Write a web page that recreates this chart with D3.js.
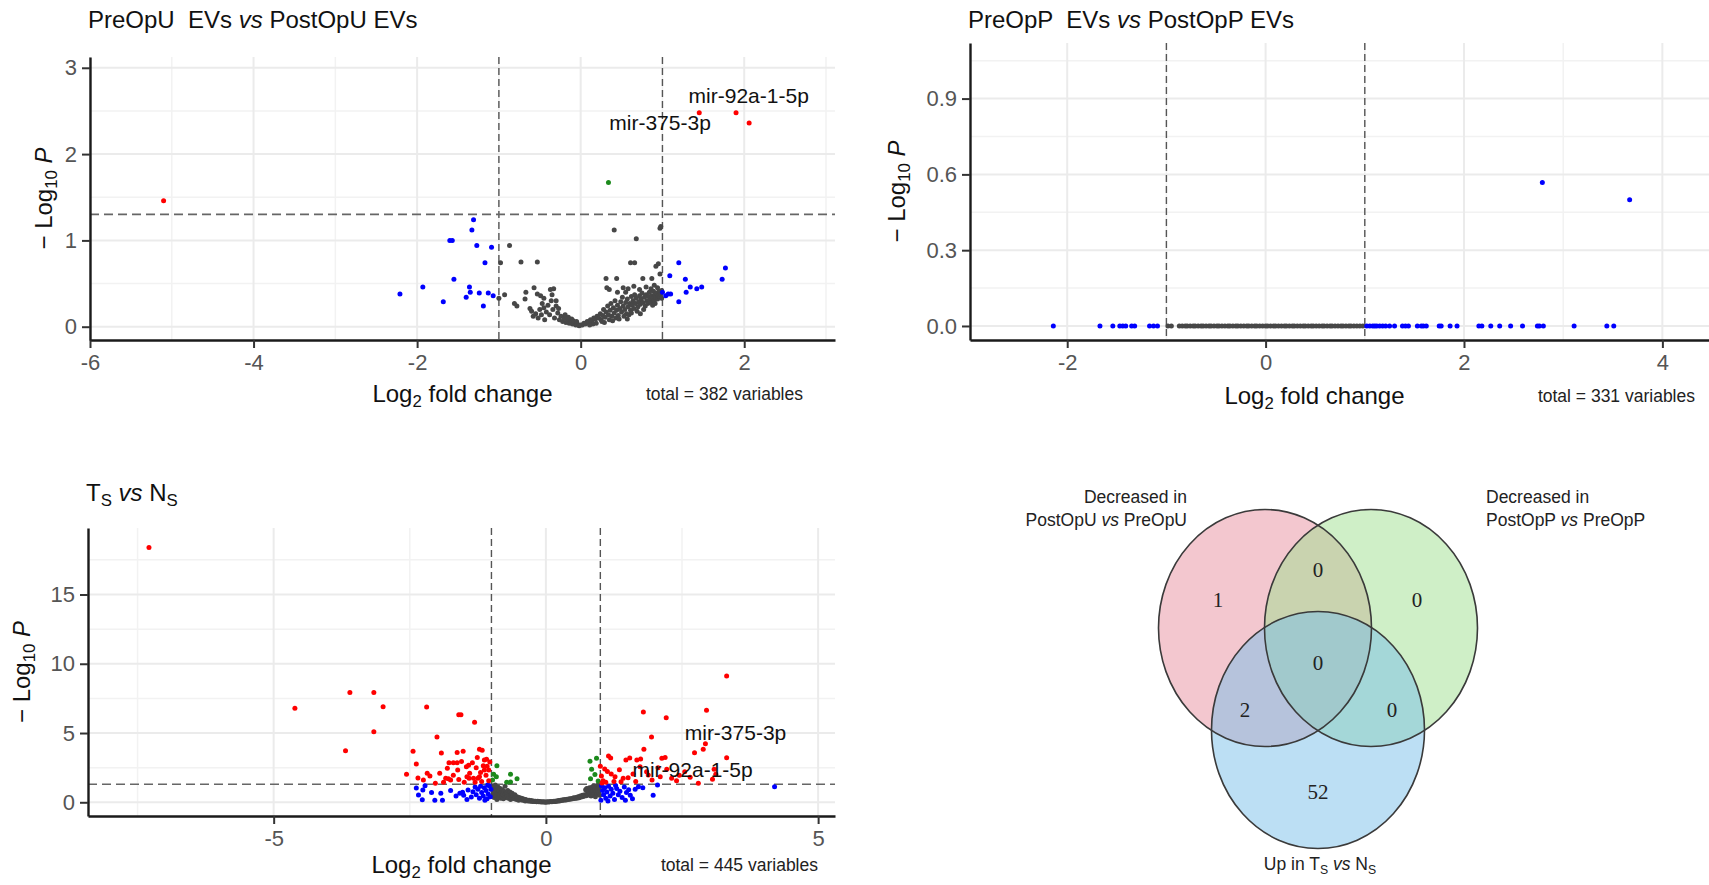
<!DOCTYPE html>
<html>
<head>
<meta charset="utf-8">
<script src="https://cdn.jsdelivr.net/npm/d3@7"></script>
<style>
  body { margin: 0; background: #fff; }
  svg { display: block; font-family: "Liberation Sans", Arial, sans-serif; }
</style>
</head>
<body>
<svg id="chart" width="1709" height="885"></svg>
<script>
// ---- panel 1 : PreOpU EVs vs PostOpU EVs ----
const p1Red = [[-5.10, 1.46], [1.45, 2.48], [1.90, 2.48], [2.06, 2.36]];
const p1Green = [[0.34, 1.67]];
const p1Blue = [
  [-1.31, 1.24], [-1.33, 1.12], [-1.60, 1.00], [-1.57, 1.00], [-1.27, 0.94], [-1.09, 0.92],
  [-1.17, 0.74], [-1.55, 0.55], [-2.21, 0.38], [-1.93, 0.46], [-1.68, 0.29], [-1.36, 0.46],
  [-1.35, 0.40], [-1.40, 0.34], [-1.24, 0.39], [-1.13, 0.39], [-1.07, 0.36], [-1.19, 0.24],
  [1.20, 0.74], [1.09, 0.59], [1.28, 0.55], [1.34, 0.46], [1.42, 0.44], [1.48, 0.46],
  [1.73, 0.55], [1.77, 0.68], [1.29, 0.40], [1.20, 0.29], [1.00, 0.40], [1.04, 0.36],
  [1.07, 0.38], [1.10, 0.38]
];
const p1Grey = [
  [-0.87, 0.94], [-0.98, 0.74], [-0.73, 0.75], [-0.53, 0.75], [-0.93, 0.37], [-1.00, 0.33],
  [-0.81, 0.27], [-0.78, 0.24], [-0.67, 0.40], [-0.57, 0.45], [-0.53, 0.38], [-0.49, 0.36],
  [-0.45, 0.33], [-0.37, 0.43], [-0.33, 0.44], [-0.35, 0.37], [-0.30, 0.30], [-0.68, 0.32],
  [-0.60, 0.18], [-0.58, 0.12], [-0.55, 0.15], [-0.52, 0.10], [-0.50, 0.20], [-0.47, 0.27],
  [-0.45, 0.22], [-0.42, 0.17], [-0.40, 0.25], [-0.38, 0.14], [-0.36, 0.30], [-0.34, 0.20],
  [-0.32, 0.10], [-0.30, 0.24], [-0.28, 0.16], [-0.26, 0.08], [-0.24, 0.12], [-0.22, 0.06],
  [-0.20, 0.10], [-0.18, 0.05], [-0.16, 0.08], [-0.14, 0.04], [-0.12, 0.06], [-0.10, 0.03],
  [-0.08, 0.05], [-0.06, 0.02], [-0.04, 0.03], [-0.02, 0.01], [0.00, 0.02], [-0.62, 0.21],
  [-0.48, 0.14], [-0.44, 0.08], [-0.27, 0.21], [-0.19, 0.14], [-0.15, 0.11], [-0.11, 0.09],
  [-0.09, 0.07], [-0.05, 0.06],
  [0.41, 1.12], [0.68, 1.02], [0.97, 1.14], [0.98, 1.16], [0.61, 0.74], [0.66, 0.74],
  [0.92, 0.70], [0.95, 0.73], [0.31, 0.56], [0.44, 0.56], [0.76, 0.56], [0.87, 0.56],
  [0.97, 0.61], [0.32, 0.45], [0.35, 0.43], [0.52, 0.45], [0.58, 0.44], [0.65, 0.47],
  [0.72, 0.43], [0.80, 0.46], [0.86, 0.44], [0.90, 0.48], [0.94, 0.45], [0.99, 0.42],
  [0.45, 0.40], [0.55, 0.40],
  [0.02, 0.02], [0.04, 0.04], [0.06, 0.03], [0.08, 0.06], [0.10, 0.05], [0.12, 0.08],
  [0.14, 0.07], [0.16, 0.10], [0.18, 0.09], [0.20, 0.12], [0.22, 0.10], [0.24, 0.15],
  [0.25, 0.08], [0.27, 0.13], [0.28, 0.20], [0.30, 0.11], [0.31, 0.17], [0.33, 0.24],
  [0.34, 0.14], [0.36, 0.19], [0.37, 0.27], [0.38, 0.12], [0.40, 0.22], [0.41, 0.16],
  [0.42, 0.30], [0.44, 0.19], [0.45, 0.25], [0.46, 0.13], [0.48, 0.21], [0.49, 0.29],
  [0.50, 0.17], [0.51, 0.34], [0.52, 0.24], [0.54, 0.20], [0.55, 0.28], [0.56, 0.15],
  [0.57, 0.32], [0.58, 0.23], [0.60, 0.27], [0.61, 0.19], [0.62, 0.35], [0.63, 0.25],
  [0.64, 0.30], [0.65, 0.21], [0.66, 0.37], [0.67, 0.27], [0.68, 0.33], [0.70, 0.23],
  [0.71, 0.29], [0.72, 0.36], [0.73, 0.26], [0.74, 0.32], [0.75, 0.39], [0.76, 0.28],
  [0.78, 0.34], [0.79, 0.24], [0.80, 0.37], [0.81, 0.30], [0.82, 0.27], [0.83, 0.35],
  [0.84, 0.40], [0.85, 0.31], [0.86, 0.28], [0.87, 0.36], [0.88, 0.33], [0.89, 0.41],
  [0.90, 0.30], [0.91, 0.37], [0.92, 0.34], [0.93, 0.39], [0.94, 0.32], [0.95, 0.36],
  [0.96, 0.41], [0.97, 0.35], [0.98, 0.38], [0.99, 0.33], [0.43, 0.10], [0.53, 0.12],
  [0.59, 0.14], [0.69, 0.18], [0.77, 0.20], [0.35, 0.08], [0.26, 0.06], [0.47, 0.09],
  [0.29, 0.05], [0.39, 0.07], [0.19, 0.04], [0.15, 0.03], [0.11, 0.02], [0.62, 0.16],
  [0.88, 0.25], [0.91, 0.27], [0.73, 0.15], [0.57, 0.09]
];
const p1Labels = [['mir-92a-1-5p', 1.32, 2.59], ['mir-375-3p', 0.35, 2.28]];
const p1XTicks = [-6, -4, -2, 0, 2];
const p1YTicks = [0, 1, 2, 3];

// ---- panel 2 : PreOpP EVs vs PostOpP EVs ----
const p2Blue = [
  [-2.14, 0], [-1.67, 0], [-1.54, 0], [-1.47, 0], [-1.44, 0], [-1.41, 0], [-1.35, 0],
  [-1.32, 0], [-1.17, 0], [-1.13, 0], [-1.09, 0],
  [1.02, 0], [1.05, 0], [1.08, 0], [1.10, 0], [1.12, 0], [1.15, 0], [1.18, 0], [1.21, 0],
  [1.25, 0], [1.30, 0], [1.38, 0], [1.41, 0], [1.44, 0], [1.53, 0], [1.57, 0], [1.59, 0],
  [1.62, 0], [1.75, 0], [1.77, 0], [1.86, 0], [1.93, 0], [2.15, 0], [2.18, 0], [2.27, 0],
  [2.36, 0], [2.47, 0], [2.59, 0], [2.74, 0], [2.76, 0], [2.80, 0], [3.11, 0], [3.44, 0],
  [3.51, 0], [2.79, 0.568], [3.67, 0.50]
];
const p2Grey = [
  -0.985, -0.95, -0.87, -0.84, -0.81, -0.79, -0.76, -0.73, -0.71, -0.68, -0.65, -0.63,
  -0.60, -0.57, -0.55, -0.52, -0.49, -0.47, -0.44, -0.41, -0.38, -0.36, -0.33, -0.30,
  -0.28, -0.25, -0.22, -0.19, -0.17, -0.14, -0.11, -0.09, -0.06, -0.03, 0.00, 0.02,
  0.05, 0.08, 0.10, 0.13, 0.16, 0.19, 0.21, 0.24, 0.27, 0.29, 0.32, 0.35, 0.38, 0.40,
  0.43, 0.46, 0.48, 0.51, 0.54, 0.57, 0.59, 0.62, 0.65, 0.67, 0.70, 0.73, 0.76, 0.78,
  0.81, 0.84, 0.86, 0.89, 0.92, 0.95, 0.98
].map(v => [v, 0]);
const p2XTicks = [-2, 0, 2, 4];
const p2YTicks = [0, 0.3, 0.6, 0.9];

// ---- panel 3 : Ts vs Ns ----
const p3Red = [
  [-7.29, 18.4], [-4.61, 6.78], [-3.60, 7.93], [-3.16, 7.93], [-2.99, 6.89], [-3.16, 5.09],
  [-3.68, 3.72], [-2.19, 6.87], [-1.60, 6.32], [-1.56, 6.32], [-1.31, 5.77], [-2.00, 4.71],
  [-2.44, 3.68], [-2.38, 2.76], [-2.56, 2.02], [-2.18, 2.09], [-2.25, 1.60], [-1.92, 3.55],
  [-1.63, 3.60], [-1.52, 3.68], [-1.22, 3.82], [-1.17, 3.75], [-1.78, 2.86], [-1.70, 2.86],
  [-1.63, 2.86], [-1.81, 2.45], [-1.62, 2.33], [-1.46, 2.57], [-1.42, 2.67], [-1.26, 3.24],
  [-1.13, 3.05], [-1.09, 3.10], [-1.15, 2.64], [-1.13, 2.33], [-1.05, 2.33], [-1.40, 2.09],
  [-1.45, 1.85], [-1.41, 1.73], [-1.33, 1.73], [-1.25, 1.73], [-1.22, 1.85], [-2.13, 1.90],
  [-2.03, 1.37], [-1.84, 1.73], [-1.79, 1.70], [-1.75, 1.61], [-1.55, 2.95], [-1.35, 2.85],
  [-1.28, 2.50], [-1.20, 2.15], [-1.10, 1.95], [-1.05, 1.55], [-1.50, 1.45], [-1.70, 1.95],
  [-1.95, 2.10], [-1.88, 1.45], [-1.30, 1.45], [-1.18, 1.50], [-1.60, 1.65], [-2.35, 1.75],
  [-1.03, 2.90], [-1.08, 2.60],
  [3.32, 9.11], [1.79, 6.51], [2.21, 6.10], [2.95, 6.65], [1.94, 4.71], [2.93, 4.23],
  [2.89, 3.82], [2.73, 3.58], [1.80, 3.82], [3.32, 3.22], [1.15, 3.34], [1.19, 3.19],
  [1.47, 3.05], [1.54, 3.19], [1.67, 3.05], [1.74, 3.12], [2.13, 3.17], [2.19, 3.24],
  [1.13, 2.23], [1.27, 1.85], [1.42, 1.73], [1.51, 1.77], [1.73, 2.57], [1.85, 2.21],
  [1.88, 1.97], [2.06, 2.50], [2.22, 2.38], [2.31, 1.73], [3.09, 2.38], [3.12, 2.02],
  [3.06, 1.66], [2.80, 1.37], [1.02, 1.90], [1.05, 1.55], [1.08, 2.40], [1.10, 1.45],
  [1.20, 2.05], [1.35, 2.35], [1.60, 2.05], [1.65, 1.50], [1.95, 1.60], [2.10, 1.85],
  [2.45, 1.95], [2.55, 2.20], [2.65, 1.80], [1.38, 1.48], [1.00, 2.60], [1.03, 1.40],
  [1.25, 1.50], [2.40, 1.55]
];
const p3Green = [
  [-0.90, 2.64], [-0.96, 2.02], [-0.91, 1.85], [-0.65, 2.02], [-0.53, 1.70], [-0.72, 1.44],
  [-0.65, 1.46], [-0.98, 1.60],
  [0.81, 2.96], [0.93, 3.17], [0.84, 2.38], [0.82, 1.70], [0.96, 1.54], [0.90, 2.00]
];
const p3Blue = [
  [-2.38, 1.03], [-2.34, 0.53], [-2.27, 0.19], [-2.26, 0.89], [-2.22, 1.20], [-2.04, 0.14],
  [-1.93, 0.65], [-1.90, 0.14], [-1.65, 0.45], [-1.58, 0.65], [-1.53, 0.72], [-1.51, 0.50],
  [-1.43, 0.89], [-1.37, 0.38], [-1.34, 0.76], [-1.28, 0.55], [-1.25, 0.95], [-1.22, 0.30],
  [-1.20, 1.15], [-1.18, 0.70], [-1.15, 0.45], [-1.13, 1.05], [-1.10, 0.85], [-1.08, 0.25],
  [-1.06, 0.60], [-1.04, 1.20], [-1.02, 0.40], [-1.12, 0.15], [-1.30, 1.10], [-1.45, 0.20],
  [-1.75, 0.85], [-2.10, 0.70], [-1.01, 0.95], [-1.07, 1.25],
  [4.20, 1.12], [2.05, 1.25], [1.97, 0.50], [1.59, 0.26], [1.70, 1.12], [1.02, 1.20],
  [1.04, 0.85], [1.06, 0.55], [1.08, 1.05], [1.10, 0.30], [1.12, 0.75], [1.15, 1.15],
  [1.18, 0.45], [1.20, 0.95], [1.23, 0.65], [1.26, 0.20], [1.30, 1.00], [1.33, 0.55],
  [1.36, 0.80], [1.40, 0.35], [1.44, 1.10], [1.48, 0.70], [1.52, 0.90], [1.55, 0.50],
  [1.64, 0.95], [1.78, 1.05], [1.01, 0.15], [1.14, 0.10], [1.28, 1.22], [1.46, 0.15]
];
const p3Grey = [
  [-0.99, 1.20], [-0.98, 0.90], [-0.97, 0.60], [-0.96, 1.05], [-0.95, 0.35], [-0.94, 0.75],
  [-0.93, 1.25], [-0.92, 0.50], [-0.91, 0.95], [-0.90, 0.20], [-0.89, 0.65], [-0.88, 1.10],
  [-0.87, 0.40], [-0.86, 0.85], [-0.85, 0.55], [-0.84, 1.00], [-0.83, 0.30], [-0.82, 0.70],
  [-0.81, 0.45], [-0.80, 0.90], [-0.79, 0.60], [-0.78, 0.25], [-0.77, 0.80], [-0.76, 0.50],
  [-0.75, 1.15], [-0.74, 0.35], [-0.73, 0.70], [-0.72, 0.55], [-0.71, 0.40], [-0.70, 0.85],
  [-0.69, 0.30], [-0.68, 0.60], [-0.67, 0.45], [-0.66, 0.75], [-0.65, 0.20], [-0.64, 0.50],
  [-0.63, 0.35], [-0.62, 0.65], [-0.61, 0.30], [-0.60, 0.45], [-0.58, 0.25], [-0.57, 0.55],
  [-0.56, 0.35], [-0.54, 0.20], [-0.53, 0.40], [-0.52, 0.30], [-0.50, 0.15], [-0.49, 0.35],
  [-0.48, 0.25], [-0.46, 0.20], [-0.45, 0.30], [-0.43, 0.15], [-0.42, 0.25], [-0.40, 0.20],
  [-0.38, 0.10], [-0.37, 0.20], [-0.35, 0.15], [-0.33, 0.10], [-0.31, 0.15], [-0.29, 0.08],
  [-0.27, 0.12], [-0.25, 0.06], [-0.23, 0.10], [-0.21, 0.05], [-0.19, 0.08], [-0.17, 0.04],
  [-0.15, 0.07], [-0.13, 0.03], [-0.11, 0.05], [-0.09, 0.02], [-0.07, 0.04], [-0.05, 0.02],
  [-0.03, 0.03], [-0.01, 0.01], [0.01, 0.02], [0.03, 0.03], [0.05, 0.02], [0.07, 0.04],
  [0.09, 0.05], [0.11, 0.04], [0.13, 0.06], [0.15, 0.08], [0.17, 0.06], [0.19, 0.10],
  [0.21, 0.08], [0.23, 0.12], [0.25, 0.10], [0.27, 0.15], [0.29, 0.12], [0.31, 0.18],
  [0.33, 0.15], [0.35, 0.20], [0.37, 0.17], [0.39, 0.22], [0.41, 0.20], [0.43, 0.25],
  [0.45, 0.22], [0.47, 0.28], [0.49, 0.25], [0.51, 0.32], [0.53, 0.28], [0.55, 0.35],
  [0.57, 0.30], [0.59, 0.40], [0.61, 0.33], [0.63, 0.45], [0.65, 0.38], [0.67, 0.50],
  [0.69, 0.42], [0.71, 0.55], [0.73, 0.90], [0.74, 0.48], [0.75, 1.00], [0.76, 0.62],
  [0.77, 0.95], [0.78, 0.52], [0.79, 0.80], [0.80, 1.05], [0.81, 0.60], [0.82, 0.90],
  [0.83, 0.45], [0.84, 0.75], [0.85, 1.10], [0.86, 0.55], [0.87, 0.85], [0.88, 1.20],
  [0.89, 0.65], [0.90, 0.95], [0.91, 0.40], [0.92, 0.80], [0.93, 1.15], [0.94, 0.60],
  [0.95, 0.90], [0.96, 1.25], [0.97, 0.70], [0.98, 1.05], [0.99, 0.50]
];
const p3Labels = [['mir-375-3p', 2.55, 4.49], ['mir-92a-1-5p', 1.59, 1.85]];
const p3XTicks = [-5, 0, 5];
const p3YTicks = [0, 5, 10, 15];

// ---- venn ----
const vennCounts = [
  { region: 'A', n: 1 }, { region: 'AB', n: 0 }, { region: 'B', n: 0 },
  { region: 'ABC', n: 0 }, { region: 'AC', n: 2 }, { region: 'BC', n: 0 }, { region: 'C', n: 52 }
];

const colors = { red: '#ff0000', blue: '#0000ff', green: '#1c8a1c', grey: '#474747' };
const svg = d3.select('#chart');

// helper: text built from parts, some italic, some subscript
function richText(sel, parts, size) {
  parts.forEach((p, i) => {
    const prev = i > 0 ? parts[i - 1] : null;
    const ts = sel.append('tspan').text(p.t);
    if (p.i) ts.attr('font-style', 'italic');
    if (p.sub) ts.attr('font-size', size * 0.7).attr('dy', size * 0.2);
    else if (prev && prev.sub) ts.attr('dy', -size * 0.2);
  });
  return sel;
}

function drawVolcano(cfg) {
  const x = d3.scaleLinear().domain(cfg.xDomain).range([cfg.left, cfg.right]);
  const y = d3.scaleLinear().domain(cfg.yDomain).range([cfg.bottom, cfg.top]);
  const g = svg.append('g');

  // grid
  g.selectAll('.gxm').data(cfg.xMinor).join('line')
    .attr('x1', d => x(d)).attr('x2', d => x(d)).attr('y1', cfg.top).attr('y2', cfg.bottom)
    .attr('stroke', '#f2f2f2').attr('stroke-width', 1.5);
  g.selectAll('.gym').data(cfg.yMinor).join('line')
    .attr('y1', d => y(d)).attr('y2', d => y(d)).attr('x1', cfg.left).attr('x2', cfg.right)
    .attr('stroke', '#f2f2f2').attr('stroke-width', 1.5);
  g.selectAll('.gxM').data(cfg.xTicks).join('line')
    .attr('x1', d => x(d)).attr('x2', d => x(d)).attr('y1', cfg.top).attr('y2', cfg.bottom)
    .attr('stroke', '#ebebeb').attr('stroke-width', 2);
  g.selectAll('.gyM').data(cfg.yTicks).join('line')
    .attr('y1', d => y(d)).attr('y2', d => y(d)).attr('x1', cfg.left).attr('x2', cfg.right)
    .attr('stroke', '#ebebeb').attr('stroke-width', 2);

  // cut-off lines
  [-1, 1].forEach(v => {
    g.append('line').attr('x1', x(v)).attr('x2', x(v)).attr('y1', cfg.top).attr('y2', cfg.bottom)
      .attr('stroke', '#555').attr('stroke-width', 1.4).attr('stroke-dasharray', '7,4');
  });
  const pCut = -Math.log10(0.05);
  if (pCut < cfg.yDomain[1]) {
    g.append('line').attr('y1', y(pCut)).attr('y2', y(pCut)).attr('x1', cfg.left).attr('x2', cfg.right)
      .attr('stroke', '#666').attr('stroke-width', 1.6).attr('stroke-dasharray', '9,5');
  }

  // points
  const series = [
    [cfg.grey || [], colors.grey], [cfg.blue || [], colors.blue],
    [cfg.green || [], colors.green], [cfg.red || [], colors.red]
  ];
  series.forEach(([pts, col]) => {
    g.append('g').selectAll('circle').data(pts).join('circle')
      .attr('cx', d => x(d[0])).attr('cy', d => y(d[1])).attr('r', 2.5).attr('fill', col);
  });

  // gene labels
  g.selectAll('.lab').data(cfg.labels || []).join('text')
    .attr('x', d => x(d[1])).attr('y', d => y(d[2]))
    .attr('font-size', 21).attr('fill', '#111').text(d => d[0]);

  // axes
  const fmt = cfg.yFormat || (d => String(d));
  const xa = g.append('g').attr('transform', `translate(0,${cfg.bottom})`)
    .call(d3.axisBottom(x).tickValues(cfg.xTicks).tickSize(8).tickSizeOuter(0).tickPadding(6)
      .tickFormat(d => String(d)));
  const ya = g.append('g').attr('transform', `translate(${cfg.left},0)`)
    .call(d3.axisLeft(y).tickValues(cfg.yTicks).tickSize(8).tickSizeOuter(0).tickPadding(5)
      .tickFormat(fmt));
  [xa, ya].forEach(a => {
    a.select('.domain').attr('stroke', '#1a1a1a').attr('stroke-width', 2.4);
    a.selectAll('.tick line').attr('stroke', '#333').attr('stroke-width', 2);
    a.selectAll('.tick text').attr('font-size', 22).attr('fill', '#555')
      .attr('font-family', '"Liberation Sans", Arial, sans-serif');
  });

  // titles
  const tt = g.append('text').attr('x', cfg.left - 2).attr('y', cfg.titleY)
    .attr('font-size', 24).attr('fill', '#111').style('white-space', 'pre');
  richText(tt, cfg.title, 24);

  const xt = g.append('text').attr('x', (cfg.left + cfg.right) / 2 + (cfg.xTitleShift || 0))
    .attr('y', cfg.xTitleY).attr('text-anchor', 'middle').attr('font-size', 24).attr('fill', '#111');
  richText(xt, [{ t: 'Log' }, { t: '2', sub: true }, { t: ' fold change' }], 24);

  const yt = g.append('text')
    .attr('transform', `translate(${cfg.yTitleX},${(cfg.top + cfg.bottom) / 2}) rotate(-90)`)
    .attr('text-anchor', 'middle').attr('font-size', 24).attr('fill', '#111')
    .style('white-space', 'pre');
  richText(yt, [{ t: '\u2212 Log' }, { t: '10', sub: true }, { t: ' ' }, { t: 'P', i: true }], 24);

  g.append('text').attr('x', cfg.totalX).attr('y', cfg.xTitleY - 2).attr('text-anchor', 'end')
    .attr('font-size', 17.5).attr('fill', '#222').text(`total = ${cfg.total} variables`);
}

drawVolcano({
  left: 90, right: 835, top: 57, bottom: 340,
  xDomain: [-6.0, 3.11], yDomain: [-0.154, 3.125],
  xTicks: p1XTicks, yTicks: p1YTicks, xMinor: [-5, -3, -1, 1, 3], yMinor: [0.5, 1.5, 2.5],
  red: p1Red, green: p1Green, blue: p1Blue, grey: p1Grey, labels: p1Labels,
  title: [{ t: 'PreOpU  EVs ' }, { t: 'vs', i: true }, { t: ' PostOpU EVs' }], titleY: 28,
  xTitleY: 402, yTitleX: 52, totalX: 803, total: 382
});

drawVolcano({
  left: 970, right: 1709, top: 43, bottom: 340,
  xDomain: [-2.98, 4.47], yDomain: [-0.0555, 1.12],
  xTicks: p2XTicks, yTicks: p2YTicks, xMinor: [-1, 1, 3], yMinor: [0.15, 0.45, 0.75, 1.05],
  blue: p2Blue, grey: p2Grey, yFormat: d3.format('.1f'),
  title: [{ t: 'PreOpP  EVs ' }, { t: 'vs', i: true }, { t: ' PostOpP EVs' }], titleY: 28,
  xTitleY: 404, xTitleShift: -25, yTitleX: 905, totalX: 1695, total: 331
});

drawVolcano({
  left: 88, right: 835, top: 528, bottom: 816,
  xDomain: [-8.41, 5.31], yDomain: [-0.99, 19.8],
  xTicks: p3XTicks, yTicks: p3YTicks, xMinor: [-7.5, -2.5, 2.5], yMinor: [2.5, 7.5, 12.5, 17.5],
  red: p3Red, green: p3Green, blue: p3Blue, grey: p3Grey, labels: p3Labels,
  title: [{ t: 'T' }, { t: 'S', sub: true }, { t: ' ' }, { t: 'vs', i: true }, { t: ' N' }, { t: 'S', sub: true }],
  titleY: 501, xTitleY: 873, yTitleX: 30, totalX: 818, total: 445
});

// ---- Venn diagram ----
const venn = svg.append('g');
const sets = [
  { key: 'A', cx: 1265, cy: 628, fill: '#e8909f' },
  { key: 'B', cx: 1371, cy: 628, fill: '#a0e090' },
  { key: 'C', cx: 1318, cy: 730, fill: '#7ac0ea' }
];
const rx = 106.5, ry = 118.5;
venn.selectAll('.vf').data(sets).join('ellipse')
  .attr('cx', d => d.cx).attr('cy', d => d.cy).attr('rx', rx).attr('ry', ry)
  .attr('fill', d => d.fill).attr('fill-opacity', 0.5);
venn.selectAll('.vs').data(sets).join('ellipse')
  .attr('cx', d => d.cx).attr('cy', d => d.cy).attr('rx', rx).attr('ry', ry)
  .attr('fill', 'none').attr('stroke', '#3a3a3a').attr('stroke-width', 1.6);

const regionPos = {
  A: [1218, 600], AB: [1318, 570], B: [1417, 600], ABC: [1318, 663],
  AC: [1245, 710], BC: [1392, 710], C: [1318, 792]
};
venn.selectAll('.vn').data(vennCounts).join('text')
  .attr('x', d => regionPos[d.region][0]).attr('y', d => regionPos[d.region][1])
  .attr('text-anchor', 'middle').attr('dominant-baseline', 'central')
  .attr('font-family', '"Liberation Serif", "Times New Roman", serif')
  .attr('font-size', 21).attr('fill', '#222').text(d => d.n);

const vl1 = venn.append('text').attr('text-anchor', 'end').attr('font-size', 17.5).attr('fill', '#222');
vl1.append('tspan').attr('x', 1187).attr('y', 503).text('Decreased in');
richText(vl1.append('tspan').attr('x', 1187).attr('y', 526),
  [{ t: 'PostOpU ' }, { t: 'vs', i: true }, { t: ' PreOpU' }], 17.5);

const vl2 = venn.append('text').attr('font-size', 17.5).attr('fill', '#222');
vl2.append('tspan').attr('x', 1486).attr('y', 503).text('Decreased in');
richText(vl2.append('tspan').attr('x', 1486).attr('y', 526),
  [{ t: 'PostOpP ' }, { t: 'vs', i: true }, { t: ' PreOpP' }], 17.5);

const vl3 = venn.append('text').attr('x', 1320).attr('y', 870).attr('text-anchor', 'middle')
  .attr('font-size', 17.5).attr('fill', '#222').style('white-space', 'pre');
richText(vl3, [{ t: 'Up in T' }, { t: 'S', sub: true }, { t: ' ' }, { t: 'vs', i: true }, { t: ' N' }, { t: 'S', sub: true }], 17.5);
</script>
</body>
</html>
